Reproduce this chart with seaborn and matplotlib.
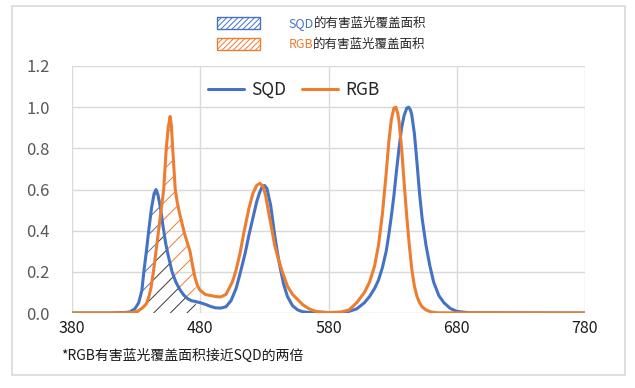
import numpy as np
import pandas as pd
import seaborn as sns
import matplotlib.pyplot as plt
from matplotlib.patches import Patch, Rectangle
from matplotlib.text import Annotation

# spectra (wavelength nm, relative intensity)
sqd_nm = [380, 410, 420, 425, 429, 432, 434.5, 436, 438, 440, 442, 444, 445.5, 447, 449, 451,
          453, 455, 458, 461, 464, 467, 470, 473, 476, 480, 484, 488, 492, 496, 500, 504, 508,
          511, 515, 518, 521, 524, 526, 528, 530, 532, 535, 538, 540, 542, 545, 548, 552, 556,
          560, 566, 575, 590, 596, 602, 608, 612, 616, 619, 622, 625, 627, 629, 631, 633, 635,
          637, 639, 641, 642.5, 644, 645, 647, 649, 651, 653, 656, 659, 662, 666, 670, 675, 680,
          690, 780]
sqd_val = [0, 0, 0.002, 0.005, 0.02, 0.05, 0.11, 0.2, 0.3, 0.41, 0.51, 0.58, 0.6, 0.575, 0.51,
           0.42, 0.34, 0.28, 0.2, 0.15, 0.115, 0.088, 0.07, 0.06, 0.056, 0.05, 0.042, 0.032, 0.025,
           0.024, 0.03, 0.06, 0.12, 0.19, 0.29, 0.38, 0.46, 0.54, 0.58, 0.61, 0.62, 0.605, 0.52,
           0.38, 0.3, 0.23, 0.14, 0.08, 0.035, 0.015, 0.006, 0.002, 0, 0.002, 0.008, 0.02, 0.05,
           0.08, 0.12, 0.16, 0.22, 0.3, 0.38, 0.47, 0.57, 0.69, 0.8, 0.9, 0.96, 0.995, 1.0, 0.985,
           0.96, 0.87, 0.73, 0.58, 0.46, 0.33, 0.23, 0.15, 0.085, 0.05, 0.022, 0.008, 0.001, 0]

rgb_nm = [380, 415, 426, 431, 435, 438, 440, 441.5, 443.5, 445.5, 447.5, 449.5, 451.5, 453.5,
          455, 456.5, 457.5, 458.5, 460.5, 462, 464, 466, 468, 470, 472, 474, 476, 478, 480, 484,
          488, 492, 496, 500, 505, 508, 511, 514, 518, 521, 524, 526.5, 529, 531, 533, 536, 538,
          541, 544, 548, 552, 556, 560, 565, 570, 580, 590, 596, 602, 608, 612, 616, 619, 622,
          625, 627, 629, 631, 632.5, 634, 635, 637, 639, 641, 643, 645, 647, 649, 651, 653, 656,
          660, 665, 780]
rgb_val = [0, 0, 0.002, 0.008, 0.025, 0.045, 0.08, 0.12, 0.2, 0.3, 0.4, 0.5, 0.6, 0.8, 0.9,
           0.955, 0.91, 0.8, 0.6, 0.54, 0.48, 0.43, 0.38, 0.34, 0.3, 0.23, 0.17, 0.13, 0.11, 0.09,
           0.085, 0.08, 0.078, 0.09, 0.15, 0.21, 0.29, 0.39, 0.51, 0.58, 0.62, 0.63, 0.615, 0.57,
           0.5, 0.4, 0.33, 0.26, 0.2, 0.13, 0.09, 0.065, 0.04, 0.02, 0.008, 0.002, 0.005, 0.015,
           0.05, 0.1, 0.15, 0.23, 0.33, 0.48, 0.68, 0.83, 0.94, 0.995, 1.0, 0.97, 0.93, 0.8, 0.63,
           0.47, 0.33, 0.21, 0.13, 0.08, 0.05, 0.03, 0.015, 0.005, 0.001, 0]

series_names = ["SQD", "RGB"]
area_suffix = "的有害蓝光覆盖面积"
note_text = "*RGB有害蓝光覆盖面积接近SQD的两倍"
x_ticks = [380, 480, 580, 680, 780]
y_ticks = [0.0, 0.2, 0.4, 0.6, 0.8, 1.0, 1.2]
harmful_range = (420, 476.5)

colors = {"SQD": "#4472C4", "RGB": "#ED7D31"}

sns.set_style("whitegrid", {"grid.color": "#D9D9D9"})
plt.rcParams["font.family"] = ["Noto Sans CJK SC", "DejaVu Sans"]
plt.rcParams["hatch.linewidth"] = 0.7

df = pd.concat([
    pd.DataFrame({"nm": sqd_nm, "value": sqd_val, "sample": "SQD"}),
    pd.DataFrame({"nm": rgb_nm, "value": rgb_val, "sample": "RGB"}),
], ignore_index=True)

fig = plt.figure(figsize=(6.35, 3.88), dpi=100)
ax = fig.add_axes([72 / 635, 75 / 388, 513 / 635, 247 / 388])

# hatched harmful blue-light areas
grid = np.linspace(harmful_range[0], harmful_range[1], 300)
b = np.interp(grid, sqd_nm, sqd_val)
o = np.interp(grid, rgb_nm, rgb_val)
ax.fill_between(grid, 0, b, facecolor="none", edgecolor=colors["SQD"], hatch="//", linewidth=0, zorder=1)
ax.fill_between(grid, 0, o, facecolor="none", edgecolor=colors["RGB"], hatch="//", linewidth=0, zorder=1)
ax.fill_between(grid, 0, np.minimum(b, o), facecolor="white", edgecolor="#3a3a3a", hatch="//", linewidth=0, zorder=1.5)

sns.lineplot(data=df, x="nm", y="value", hue="sample", palette=colors, linewidth=2.2,
             errorbar=None, ax=ax, zorder=3)

ax.set_xlim(380, 780)
ax.set_ylim(0, 1.2)
ax.set_xticks(x_ticks)
ax.set_yticks(y_ticks)
ax.set_yticklabels([f"{v:.1f}" for v in y_ticks])
ax.set_xlabel("")
ax.set_ylabel("")
ax.grid(True, color="#D9D9D9", linewidth=1)
for s in ax.spines.values():
    s.set_visible(False)
ax.tick_params(axis="y", labelsize=12, labelcolor="#595959", pad=16, length=0)
ax.tick_params(axis="x", labelsize=11.5, labelcolor="#1a1a1a", pad=5, length=0)

handles, labels = ax.get_legend_handles_labels()
leg = ax.legend(handles, labels, loc="center left",
                bbox_to_anchor=((208 - 72) / 513, (313 - 90) / 247), ncol=2, frameon=False,
                fontsize=12.5, handlelength=2.1, handletextpad=0.4, columnspacing=0.9,
                borderpad=0, borderaxespad=0)
for line in leg.get_lines():
    line.set_linewidth(2.2)

# top legend for hatched areas
patches = [Patch(facecolor="white", edgecolor=colors[n], hatch="//////", linewidth=1) for n in series_names]
top_leg = fig.legend(patches, series_names, loc="upper left",
                     bbox_to_anchor=(217 / 635, 1 - 17 / 388), frameon=False, fontsize=9,
                     handlelength=3.4, handleheight=1.05, handletextpad=2.3, labelspacing=0.65,
                     borderpad=0, borderaxespad=0)
for txt, n in zip(top_leg.get_texts(), series_names):
    txt.set_color(colors[n])
    ann = Annotation(area_suffix, xy=(1, 0), xycoords=txt, va="bottom", ha="left",
                     fontsize=9, color="#262626")
    ann.set_zorder(10)
    fig.add_artist(ann)

fig.text(61 / 635, 1 - 356 / 388, note_text, fontsize=10, va="center", ha="left", color="#1a1a1a")

fig.add_artist(Rectangle((11.7 / 635, 13 / 388), (625 - 11.7) / 635, (375 - 6) / 388,
                         transform=fig.transFigure, fill=False, edgecolor="#D9D9D9", linewidth=1.2))

fig.savefig("out.png", dpi=100)
